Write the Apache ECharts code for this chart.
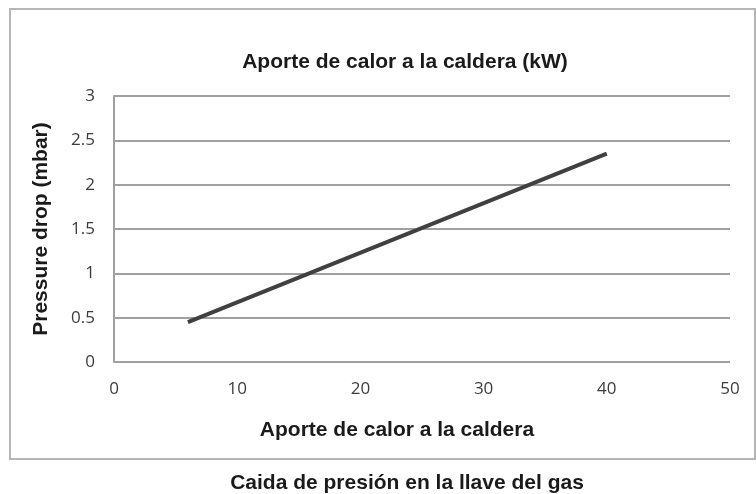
<!DOCTYPE html>
<html>
<head>
<meta charset="utf-8">
<script src="https://cdn.jsdelivr.net/npm/echarts@6/dist/echarts.min.js"></script>
<style>
  html, body { margin: 0; padding: 0; background: #fff; }
  #chart { width: 756px; height: 494px; }
</style>
</head>
<body>
<div id="chart"></div>
<script>
// Heat input to the boiler (kW) vs. pressure drop across the gas valve (mbar)
const heatInput = [6, 40];
const pressureDrop = [0.45, 2.35];
const xTicks = [0, 10, 20, 30, 40, 50];
const yTicks = [0, 0.5, 1, 1.5, 2, 2.5, 3];

const chart = echarts.init(document.getElementById('chart'), null, { renderer: 'canvas' });

const boldFont = {
  fontFamily: '"Liberation Sans", Arial, sans-serif',
  fontWeight: 'bold',
  fontSize: 21,
  color: '#1a1a1a'
};
const tickFont = {
  fontFamily: '"Open Sans", "Liberation Sans", sans-serif',
  fontSize: 17,
  color: '#3c3c3c'
};
const gridColor = '#a0a0a0';

chart.setOption({
  animation: false,
  backgroundColor: '#fff',
  title: [
    {
      text: 'Aporte de calor a la caldera (kW)',
      left: 400, top: 57, textAlign: 'center', textVerticalAlign: 'middle',
      textStyle: boldFont
    },
    {
      text: 'Aporte de calor a la caldera',
      left: 392, top: 425, textAlign: 'center', textVerticalAlign: 'middle',
      textStyle: boldFont
    },
    {
      text: 'Caida de presión en la llave del gas',
      left: 402, top: 478, textAlign: 'center', textVerticalAlign: 'middle',
      textStyle: boldFont
    }
  ],
  graphic: [
    {
      type: 'rect',
      shape: { x: 10, y: 9, width: 745, height: 450 },
      style: { fill: 'none', stroke: '#b5b5b5', lineWidth: 2 },
      silent: true,
      z: -1
    }
  ],
  grid: { left: 114, right: 26, top: 96, bottom: 132 },
  xAxis: {
    type: 'value',
    min: xTicks[0], max: xTicks[xTicks.length - 1], interval: 10,
    axisLine: { show: false },
    axisTick: { show: false },
    splitLine: { show: false },
    axisLabel: { ...tickFont, margin: 19 }
  },
  yAxis: {
    type: 'value',
    min: yTicks[0], max: yTicks[yTicks.length - 1], interval: 0.5,
    name: 'Pressure drop (mbar)',
    nameLocation: 'middle',
    nameGap: 62,
    nameTextStyle: boldFont,
    axisLine: { show: true, lineStyle: { color: gridColor, width: 2 } },
    axisTick: { show: false },
    splitLine: { show: true, lineStyle: { color: gridColor, width: 2 } },
    axisLabel: { ...tickFont, margin: 19 }
  },
  series: [
    {
      type: 'line',
      data: heatInput.map((x, i) => [x, pressureDrop[i]]),
      symbol: 'none',
      lineStyle: { color: '#404040', width: 4 },
      z: 3
    }
  ]
});
</script>
</body>
</html>
